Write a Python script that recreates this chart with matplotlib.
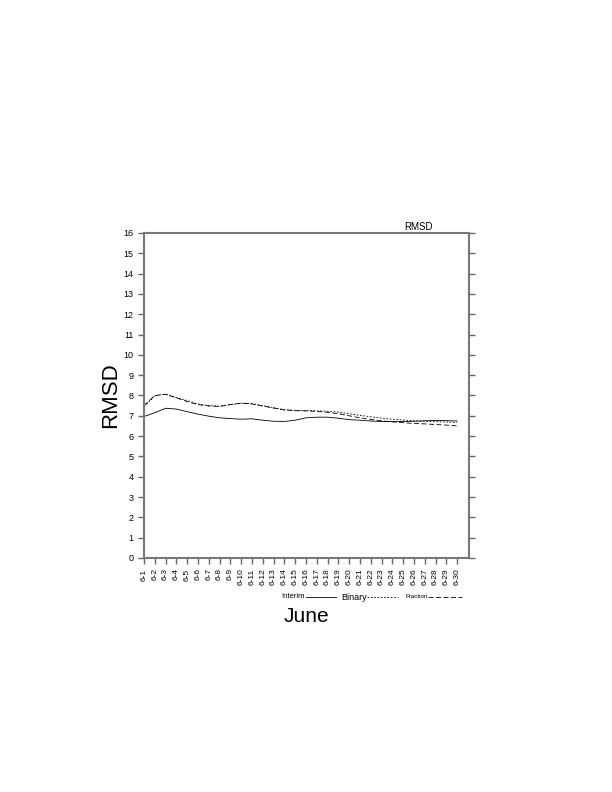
import numpy as np
import matplotlib.pyplot as plt
from matplotlib.lines import Line2D

plt.rcParams['font.family'] = ['Liberation Sans', 'DejaVu Sans']

# days of June
days = ['6-%d' % d for d in range(1, 31)]

interim = [6.96, 7.15, 7.37, 7.33, 7.20, 7.08, 6.98, 6.90, 6.86, 6.83,
           6.85, 6.78, 6.73, 6.72, 6.78, 6.90, 6.93, 6.93, 6.88, 6.81,
           6.78, 6.74, 6.72, 6.72, 6.72, 6.73, 6.75, 6.77, 6.76, 6.74]
binary = [7.45, 7.98, 8.07, 7.90, 7.75, 7.58, 7.50, 7.47, 7.55, 7.62,
          7.60, 7.50, 7.40, 7.30, 7.27, 7.25, 7.24, 7.22, 7.18, 7.10,
          7.02, 6.95, 6.88, 6.83, 6.79, 6.75, 6.73, 6.71, 6.69, 6.67]
fraction = [7.50, 8.00, 8.05, 7.88, 7.70, 7.55, 7.48, 7.46, 7.55, 7.62,
            7.58, 7.48, 7.38, 7.28, 7.25, 7.24, 7.22, 7.17, 7.10, 7.00,
            6.90, 6.82, 6.75, 6.70, 6.66, 6.62, 6.60, 6.57, 6.54, 6.50]

x = np.arange(len(days))

fig = plt.figure(figsize=(6.12, 7.92), dpi=100)
ax = fig.add_axes([0.2353, 0.2955, 0.531, 0.4104])

ax.plot(x, interim, color='black', lw=0.6, ls='-')
ax.plot(x, binary, color='black', lw=0.6, ls=(0, (2, 2)))
ax.plot(x, fraction, color='black', lw=0.6, ls=(0, (6, 3)))

ax.set_xlim(0, 30.1)
ax.set_ylim(0, 16)
ax.set_yticks(range(0, 17))
ax.set_xticks(x)
ax.set_xticklabels(days, rotation=90, fontsize=6)
ax.tick_params(axis='y', labelsize=6.5, direction='out', length=4, width=1,
               color='#666666', right=True)
ax.tick_params(axis='x', direction='out', length=4, width=1, color='#666666')
for s in ax.spines.values():
    s.set_color('#777777')
    s.set_linewidth(1.5)

ax.set_ylabel('RMSD', fontsize=16, labelpad=2)
ax.text(0.846, 1.004, 'RMSD', transform=ax.transAxes, ha='center',
        va='bottom', fontsize=7)

fig.text(0.5008, 0.2222, 'June', ha='center', va='center', fontsize=15)

# legend strip under the axis
ly = 1 - 597 / 792
fig.text(305 / 612, ly, 'Interim', ha='right', va='center', fontsize=5.5)
fig.add_artist(Line2D([306 / 612, 336 / 612], [ly, ly], color='black', lw=0.6))
fig.text(367 / 612, ly, 'Binary', ha='right', va='center', fontsize=6.5)
fig.add_artist(Line2D([367 / 612, 398 / 612], [ly, ly], color='black', lw=0.6,
                      ls=(0, (2, 2))))
fig.text(428 / 612, ly, 'Fraction', ha='right', va='center', fontsize=4.5)
fig.add_artist(Line2D([428 / 612, 462 / 612], [ly, ly], color='black', lw=0.6,
                      ls=(0, (6, 3))))

fig.savefig('out.png', dpi=100)
